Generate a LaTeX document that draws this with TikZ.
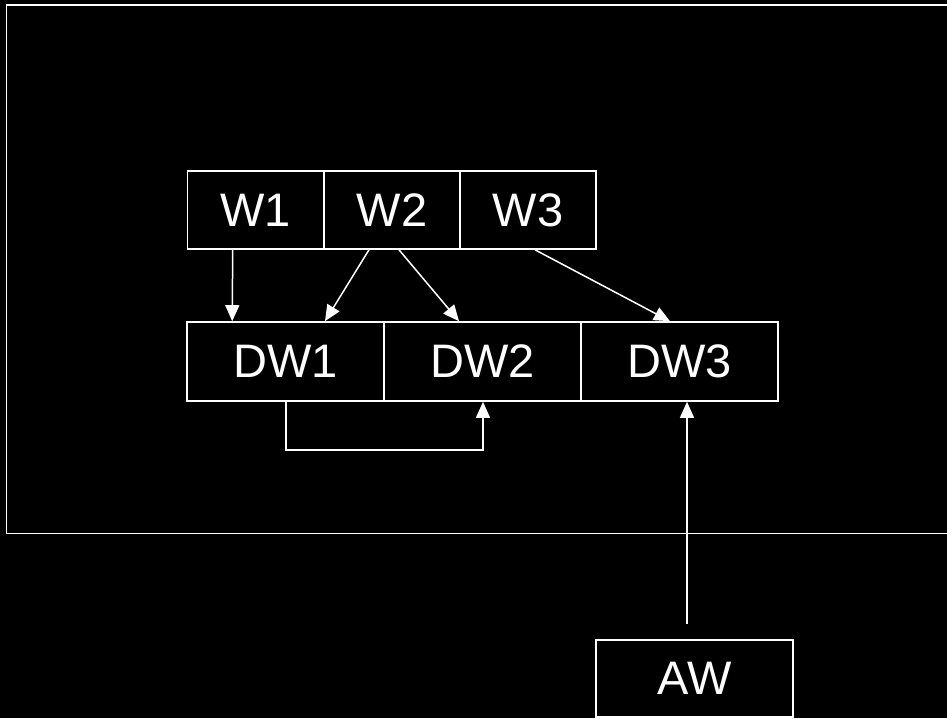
\documentclass[tikz,border=0pt]{standalone}
\usepackage{fontspec}
\setmainfont{Liberation Sans}
\usetikzlibrary{arrows.meta,calc}
\begin{document}
\begin{tikzpicture}[x=1pt,y=-1pt,
  cell/.style={draw=white,line width=1.6pt,fill=black,text=white,inner sep=0pt,
    font=\fontsize{47}{50}\selectfont},
  wcell/.style={cell,minimum width=136pt,minimum height=78pt},
  dcell/.style={cell,minimum width=197pt,minimum height=79pt},
  conn/.style={draw=white,line width=1.5pt,-{Triangle[length=16pt,width=14pt]}},
  frame/.style={draw=white,line width=1.8pt}]
\fill[black] (0,0) rectangle (947,718);
\useasboundingbox (0,0) rectangle (947,718);
\draw[frame] (970,5) -- (6.5,5) -- (6.5,533.5) -- (970,533.5);
\node[wcell] (W1) at (255.5,210) {W1};
\node[wcell] (W2) at (392,210) {W2};
\node[wcell] (W3) at (528,210) {W3};
\node[dcell] (DW1) at (285.5,361.5) {DW1};
\node[dcell] (DW2) at (482.5,361.5) {DW2};
\node[dcell] (DW3) at (679.5,361.5) {DW3};
\node[cell,minimum width=197pt,minimum height=77pt] (AW) at (694.5,678.5) {AW};
\coordinate (AWtop) at ($(AW.north)+(-7.5,-15)$);
\draw[conn] ($(W1.south west)+(46,0)$) -- ($(DW1.north west)+(46,0)$);
\draw[conn] ($(W2.south)+(-23,0)$) -- ($(DW1.north)+(39.5,0)$);
\draw[conn] ($(W2.south)+(7,0)$) -- ($(DW2.north)+(-23.5,0)$);
\draw[conn] ($(W3.south)+(7,0)$) -- ($(DW3.north)+(-9.5,0)$);
\draw[conn] ($(DW1.south)+(0.5,0)$) -- ++(0,48) -| ($(DW2.south)+(0.5,0)$);
\draw[conn] (AWtop) -- ($(DW3.south)+(7.5,0)$);
\end{tikzpicture}
\end{document}
